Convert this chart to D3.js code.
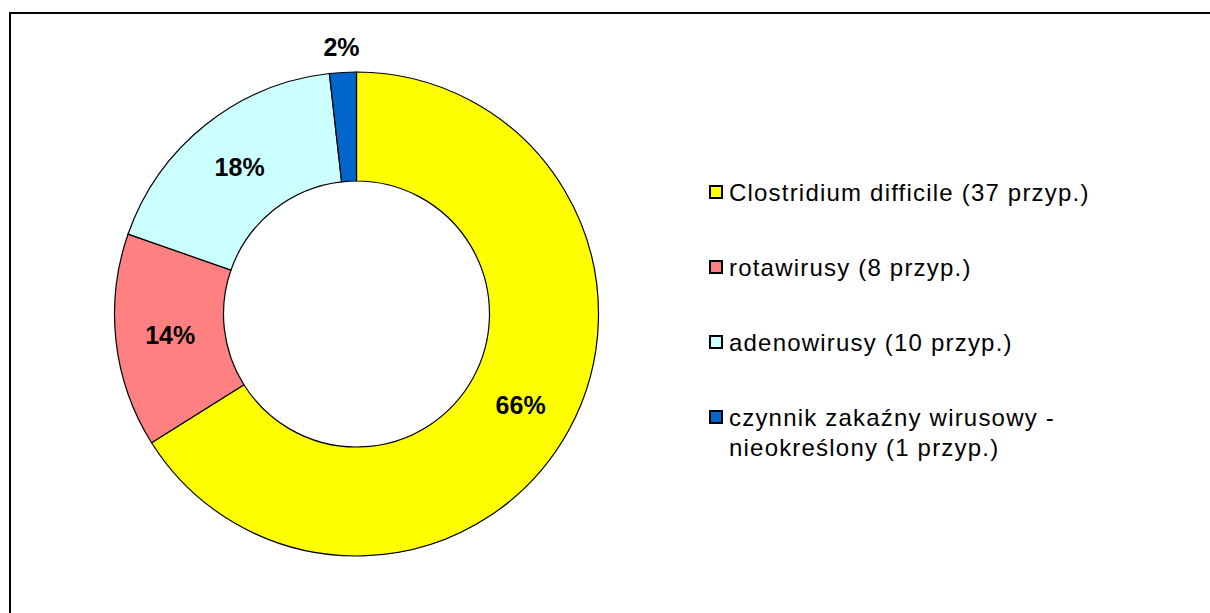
<!DOCTYPE html>
<html>
<head>
<meta charset="utf-8">
<script src="https://cdn.jsdelivr.net/npm/d3@7"></script>
<style>
    body { margin: 0; background: #fff; }
    svg { display: block; font-family: "Liberation Sans", Arial, sans-serif; }
</style>
</head>
<body>
<svg width="1210" height="613"></svg>
<script>
// chart data
var categories = ["Clostridium difficile", "rotawirusy", "adenowirusy", "czynnik zakaźny wirusowy - nieokreślony"];
var legendLines = [
    ["Clostridium difficile (37 przyp.)"],
    ["rotawirusy (8 przyp.)"],
    ["adenowirusy (10 przyp.)"],
    ["czynnik zakaźny wirusowy -", "nieokreślony (1 przyp.)"]
];
var cases = [37, 8, 10, 1];
var colors = ["#ffff00", "#ff8080", "#ccffff", "#0066cc"];

(function () {
    'use strict';

    var svg = d3.select("svg");
    var cx = 356.5, cy = 314, outerR = 242, innerR = 133;
    var total = d3.sum(cases);

    // frame: only top and left edges are inside the picture
    svg.append("path")
        .attr("d", "M10,613 V13 H1210")
        .attr("fill", "none")
        .attr("stroke", "#000")
        .attr("stroke-width", 2);

    var pie = d3.pie().sort(null).value(function (d) { return d; });
    var arc = d3.arc().innerRadius(innerR).outerRadius(outerR);
    var arcs = pie(cases);

    var g = svg.append("g").attr("transform", "translate(" + cx + "," + cy + ")");

    g.selectAll(".slice")
        .data(arcs)
        .enter().append("path")
        .attr("class", "slice")
        .attr("d", arc)
        .attr("fill", function (d, i) { return colors[i]; })
        .attr("stroke", "#000")
        .attr("stroke-width", 1.2);

    // outside arc for the small slice label
    var outerArc = d3.arc().innerRadius(outerR + 25).outerRadius(outerR + 25);

    g.selectAll(".pct")
        .data(arcs)
        .enter().append("text")
        .attr("class", "pct")
        .attr("transform", function (d) {
            var p = (d.endAngle - d.startAngle) < 0.3 ? outerArc.centroid(d) : arc.centroid(d);
            return "translate(" + p + ")";
        })
        .attr("text-anchor", "middle")
        .attr("dy", "0.36em")
        .attr("font-size", 25)
        .attr("font-weight", "bold")
        .attr("fill", "#000")
        .text(function (d) { return Math.round(d.value / total * 100) + "%"; });

    // legend
    var legend = svg.append("g").attr("transform", "translate(709,0)");
    var rowY = d3.scalePoint().domain(d3.range(categories.length)).range([192, 417]);

    var rows = legend.selectAll(".row")
        .data(legendLines)
        .enter().append("g")
        .attr("class", "row")
        .attr("transform", function (d, i) { return "translate(0," + rowY(i) + ")"; });

    rows.append("rect")
        .attr("x", 1)
        .attr("y", -6)
        .attr("width", 12)
        .attr("height", 12)
        .attr("fill", function (d, i) { return colors[i]; })
        .attr("stroke", "#000")
        .attr("stroke-width", 2);

    rows.append("text")
        .attr("font-size", 24)
        .attr("letter-spacing", 1.2)
        .attr("fill", "#000")
        .selectAll("tspan")
        .data(function (d) { return d; })
        .enter().append("tspan")
        .attr("x", 20)
        .attr("y", function (d, i) { return i * 30; })
        .attr("dy", "0.36em")
        .text(function (d) { return d; });
}());
</script>
</body>
</html>
